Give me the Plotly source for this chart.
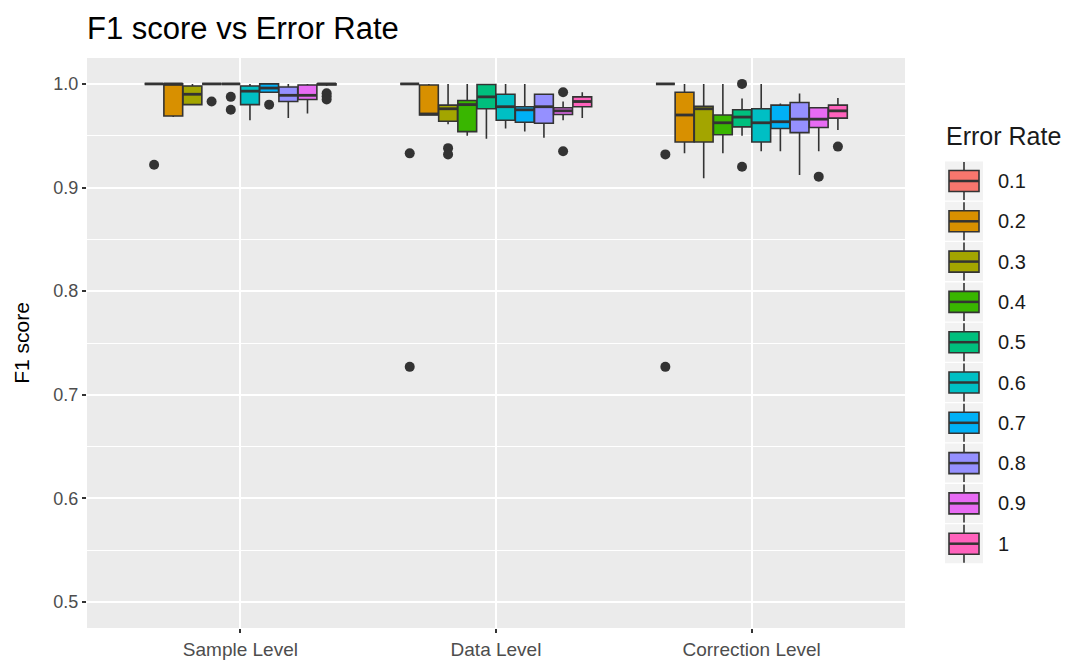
import plotly.graph_objects as go

# ---------------- data ----------------
levels = ["Sample Level", "Data Level", "Correction Level"]
rates = ["0.1", "0.2", "0.3", "0.4", "0.5", "0.6", "0.7", "0.8", "0.9", "1"]
colors = ["#F8766D", "#D89000", "#A3A500", "#39B600", "#00BF7D",
          "#00BFC4", "#00B0F6", "#9590FF", "#E76BF3", "#FF62BC"]

# each row: one error rate; columns: Sample, Data, Correction
lower_whisker = [
    [1.000, 1.000, 1.000],
    [0.968, 0.970, 0.933],
    [0.980, 0.961, 0.909],
    [1.000, 0.950, 0.933],
    [1.000, 0.947, 0.950],
    [0.965, 0.957, 0.935],
    [0.992, 0.954, 0.935],
    [0.967, 0.948, 0.912],
    [0.9715, 0.965, 0.935],
    [0.998, 0.967, 0.9555],
]
q1_vals = [
    [1.000, 1.000, 1.000],
    [0.969, 0.970, 0.944],
    [0.980, 0.964, 0.944],
    [1.000, 0.954, 0.951],
    [1.000, 0.976, 0.9585],
    [0.980, 0.965, 0.944],
    [0.992, 0.963, 0.957],
    [0.983, 0.962, 0.953],
    [0.985, 0.9705, 0.958],
    [0.999, 0.978, 0.967],
]
median_vals = [
    [1.000, 1.000, 1.000],
    [1.000, 0.971, 0.970],
    [0.990, 0.976, 0.976],
    [1.000, 0.980, 0.9625],
    [1.000, 0.9875, 0.968],
    [0.993, 0.978, 0.9625],
    [0.996, 0.975, 0.9635],
    [0.989, 0.978, 0.966],
    [0.989, 0.974, 0.966],
    [1.000, 0.983, 0.974],
]
q3_vals = [
    [1.000, 1.000, 1.000],
    [1.000, 0.999, 0.992],
    [0.998, 0.9795, 0.9785],
    [1.000, 0.984, 0.970],
    [1.000, 0.9995, 0.975],
    [0.998, 0.990, 0.976],
    [1.000, 0.978, 0.9795],
    [0.997, 0.990, 0.982],
    [0.999, 0.977, 0.977],
    [1.000, 0.9875, 0.9795],
]
upper_whisker = [
    [1.000, 1.000, 1.000],
    [1.000, 1.000, 1.000],
    [1.000, 1.000, 1.000],
    [1.000, 1.000, 1.000],
    [1.000, 1.000, 0.986],
    [1.000, 1.000, 1.000],
    [1.000, 1.000, 0.981],
    [1.000, 0.990, 0.9907],
    [1.000, 0.983, 0.977],
    [1.000, 0.992, 0.9865],
]
outliers = [
    [[0.922], [0.933, 0.727], [0.932, 0.727]],
    [[], [], []],
    [[], [0.938, 0.932], []],
    [[0.983], [], []],
    [[0.9875, 0.975], [], [1.000, 0.920]],
    [[], [], []],
    [[0.980], [], []],
    [[], [], []],
    [[], [0.992, 0.935], [0.9105]],
    [[0.991, 0.988, 0.985], [], [0.9395]],
]

# ---------------- layout constants ----------------
W, H = 1068, 660
ML, MR, MT, MB = 87, 163, 58, 32
PW, PH = W - ML - MR, H - MT - MB
DODGE = 0.75
n = len(rates)
bw = DODGE / n
OUTLINE = "#333333"
FONT = "Liberation Sans, Arial, sans-serif"


def dodge(level_idx, rate_idx):
    return (level_idx + 1) - DODGE / 2 + bw * (rate_idx + 0.5)


fig = go.Figure()
for k, rate in enumerate(rates):
    xs = [dodge(j, k) for j in range(len(levels))]
    fig.add_trace(go.Box(
        x=xs,
        q1=q1_vals[k], median=median_vals[k], q3=q3_vals[k],
        lowerfence=lower_whisker[k], upperfence=upper_whisker[k],
        width=bw * 0.98,
        fillcolor=colors[k],
        line=dict(color=OUTLINE, width=1.6),
        whiskerwidth=0,
        boxpoints=False,
        name=rate, showlegend=False, hoverinfo="skip",
    ))
    # thicker median bars (ggplot fatten)
    mx, my = [], []
    for j in range(len(levels)):
        mx += [xs[j] - bw * 0.49, xs[j] + bw * 0.49, None]
        my += [median_vals[k][j], median_vals[k][j], None]
    fig.add_trace(go.Scatter(
        x=mx, y=my, mode="lines", line=dict(color=OUTLINE, width=2.8),
        showlegend=False, hoverinfo="skip",
    ))
    ox, oy = [], []
    for j in range(len(levels)):
        for v in outliers[k][j]:
            ox.append(xs[j])
            oy.append(v)
    if ox:
        fig.add_trace(go.Scatter(
            x=ox, y=oy, mode="markers",
            marker=dict(color=OUTLINE, size=10, line=dict(width=0)),
            showlegend=False, hoverinfo="skip",
        ))


def px2x(px):
    return (px - ML) / PW


def py2y(py):
    return (H - MB - py) / PH


shapes = []
annotations = []
# custom ggplot-like legend
legend_top = 181
legend_step = 40.3
kx0, kx1 = 945, 983
bx0, bx1 = 949, 979
cx = 964
for k, rate in enumerate(rates):
    cy = legend_top + legend_step * k
    shapes.append(dict(type="rect", xref="paper", yref="paper",
                       x0=px2x(kx0), x1=px2x(kx1), y0=py2y(cy + 19.5), y1=py2y(cy - 19.5),
                       fillcolor="#F2F2F2", line=dict(width=0), layer="below"))
    shapes.append(dict(type="line", xref="paper", yref="paper",
                       x0=px2x(cx), x1=px2x(cx), y0=py2y(cy + 19), y1=py2y(cy - 19),
                       line=dict(color=OUTLINE, width=1.6)))
    shapes.append(dict(type="rect", xref="paper", yref="paper",
                       x0=px2x(bx0), x1=px2x(bx1), y0=py2y(cy + 10.5), y1=py2y(cy - 10.5),
                       fillcolor=colors[k], line=dict(color=OUTLINE, width=1.6)))
    shapes.append(dict(type="line", xref="paper", yref="paper",
                       x0=px2x(bx0), x1=px2x(bx1), y0=py2y(cy), y1=py2y(cy),
                       line=dict(color=OUTLINE, width=2.5)))
    annotations.append(dict(text=rate, xref="paper", yref="paper",
                            x=px2x(996), y=py2y(cy), xanchor="left", yanchor="middle",
                            showarrow=False,
                            font=dict(family=FONT, size=20, color="#1A1A1A")))
annotations.append(dict(text="Error Rate", xref="paper", yref="paper",
                        x=px2x(944), y=py2y(136), xanchor="left", yanchor="middle",
                        showarrow=False,
                        font=dict(family=FONT, size=25, color="#1A1A1A")))

fig.update_layout(
    width=W, height=H,
    margin=dict(l=ML, r=MR, t=MT, b=MB, autoexpand=False),
    paper_bgcolor="white",
    plot_bgcolor="#EBEBEB",
    boxmode="overlay",
    showlegend=False,
    shapes=shapes,
    annotations=annotations,
    title=dict(text="F1 score vs Error Rate", x=0, xref="paper",
               xanchor="left", y=1 - 28 / H, yanchor="middle",
               font=dict(family=FONT, size=31, color="#000000")),
    font=dict(family=FONT),
)
fig.update_xaxes(
    range=[0.4, 3.6], automargin=False,
    tickmode="array", tickvals=[1, 2, 3], ticktext=levels,
    showgrid=True, gridcolor="white", gridwidth=2,
    zeroline=False, showline=False,
    ticks="outside", ticklen=4, tickwidth=1.5, tickcolor=OUTLINE,
    tickfont=dict(size=19, color="#4D4D4D"),
)
fig.update_yaxes(
    range=[0.475, 1.025], automargin=False,
    tickmode="array", tickvals=[0.5, 0.6, 0.7, 0.8, 0.9, 1.0],
    ticktext=["0.5", "0.6", "0.7", "0.8", "0.9", "1.0"],
    showgrid=True, gridcolor="white", gridwidth=2,
    minor=dict(tickmode="array", tickvals=[0.55, 0.65, 0.75, 0.85, 0.95],
               showgrid=True, gridcolor="white", gridwidth=1, ticks=""),
    zeroline=False, showline=False,
    ticks="outside", ticklen=4, tickwidth=1.5, tickcolor=OUTLINE,
    tickfont=dict(size=18, color="#4D4D4D"),
    title=dict(text="F1 score", font=dict(size=21, color="#000000"), standoff=18),
)

fig.write_html("out.html")
